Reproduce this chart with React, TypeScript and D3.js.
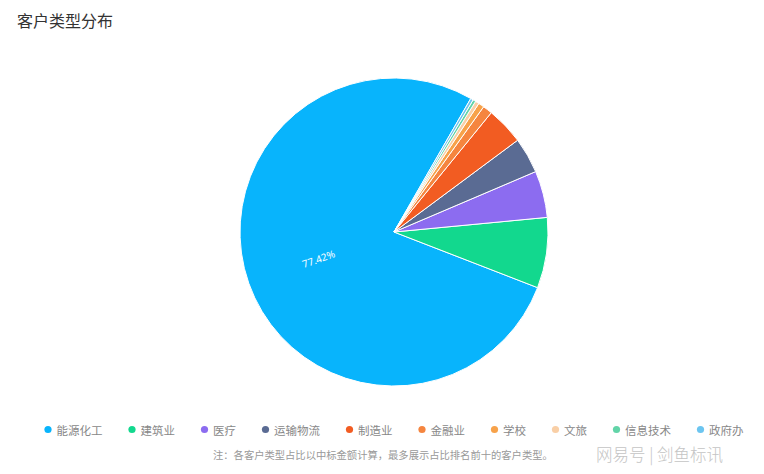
import React from "react";
import * as d3 from "d3";

const categories = ["能源化工", "建筑业", "医疗", "运输物流", "制造业", "金融业", "学校", "文旅", "信息技术", "政府办"];
const values = [77.42, 7.4, 4.9, 3.75, 3.95, 1.0, 0.6, 0.4, 0.3, 0.28];
const colors = ["#08b4fc", "#12d88e", "#8c6cf0", "#5a6b93", "#f25c22", "#f5853f", "#f7a24a", "#f9cfa6", "#62d4a8", "#6cc5f0"];
const titleText = "客户类型分布";
const footnoteText = "注：各客户类型占比以中标金额计算，最多展示占比排名前十的客户类型。";
const watermarkText = "网易号 | 剑鱼标讯";

const FONT = "'Noto Sans CJK SC', 'Noto Sans', sans-serif";

export default function App() {
  const W = 764;
  const H = 474;
  const cx = 394;
  const cy = 232;
  const r = 154;
  const start = (29.9 * Math.PI) / 180;

  const pie = d3
    .pie<number>()
    .sort(null)
    .value((d) => d)
    .startAngle(start)
    .endAngle(start - 2 * Math.PI);
  const arcs = pie(values);
  const arc = d3.arc<d3.PieArcDatum<number>>().innerRadius(0).outerRadius(r);
  const total = d3.sum(values);

  // label for the largest slice
  const big = arcs[0];
  const mid = (big.startAngle + big.endAngle) / 2;
  const lr = r * 0.52;
  const lx = Math.sin(mid) * lr;
  const ly = -Math.cos(mid) * lr;
  let deg = (Math.atan2(-Math.cos(mid), Math.sin(mid)) * 180) / Math.PI;
  if (deg > 90) deg -= 180;
  if (deg < -90) deg += 180;
  const pct = ((big.data / total) * 100).toFixed(2) + "%";

  // legend layout
  const legendY = 429.5;
  const legendFont = 11.5;
  const legendStart = 48;
  const legendItems: { x: number; name: string; color: string }[] = [];
  let lxPos = legendStart;
  categories.forEach((name, i) => {
    legendItems.push({ x: lxPos, name, color: colors[i] });
    lxPos += 9 + name.length * legendFont + 29;
  });

  return (
    <svg
      width={W}
      height={H}
      style={{ position: "absolute", left: 0, top: 0, background: "#fff" }}
      fontFamily={FONT}
    >
      <text x={17} y={27} fontSize={16} fill="#333">
        {titleText}
      </text>
      <g transform={`translate(${cx},${cy})`}>
        {arcs.map((a, i) => (
          <path key={i} d={arc(a) || ""} fill={colors[i]} stroke="#fff" strokeWidth={1} strokeLinejoin="round" />
        ))}
        <text
          transform={`translate(${lx},${ly}) rotate(${deg})`}
          textAnchor="middle"
          dominantBaseline="central"
          fontSize={10}
          fill="#fff"
          fontFamily="'Noto Sans', sans-serif"
        >
          {pct}
        </text>
      </g>
      {legendItems.map((it, i) => (
        <g key={i}>
          <circle cx={it.x} cy={legendY} r={3.6} fill={it.color} />
          <text x={it.x + 8.5} y={legendY} dominantBaseline="central" fontSize={legendFont} fill="#888">
            {it.name}
          </text>
        </g>
      ))}
      <text x={213} y={459} fontSize={10.3} fill="#999">
        {footnoteText}
      </text>
      <text x={596} y={461} fontSize={16.5} fill="#c4c4c4" style={{ fontWeight: 300 }}>
        {watermarkText}
      </text>
    </svg>
  );
}
